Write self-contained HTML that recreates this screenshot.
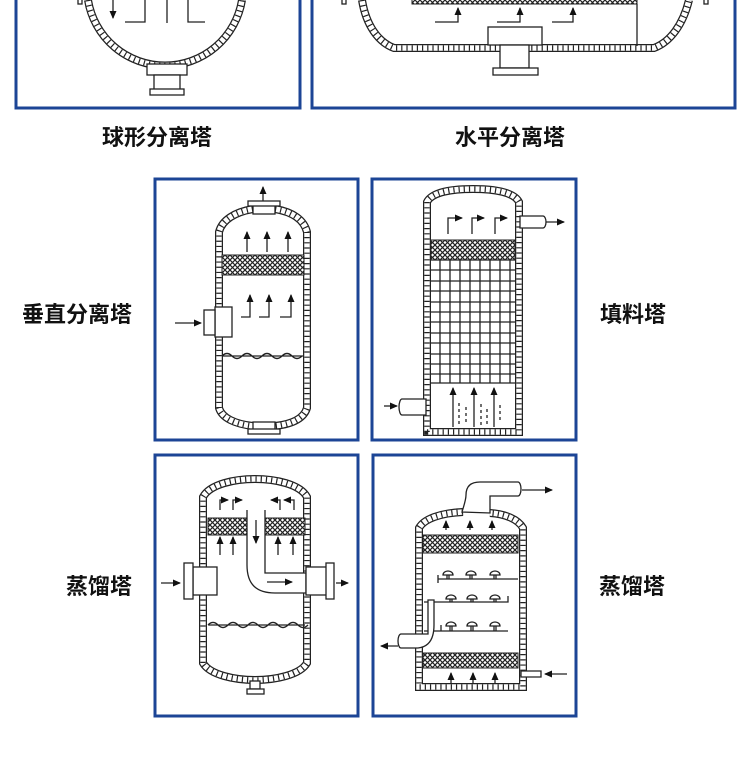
<!DOCTYPE html>
<html><head><meta charset="utf-8"><style>
html,body{margin:0;padding:0;background:#fff;width:750px;height:763px;overflow:hidden}
svg{display:block}
text{font-family:"Liberation Sans","Noto Sans CJK SC",sans-serif;font-weight:bold;font-size:22px;fill:#111}
.b{fill:none;stroke:#1c4596;stroke-width:3}
.wo{fill:none;stroke:#222;stroke-width:8}
.wi{fill:none;stroke:#fff;stroke-width:5.5}
.wt{fill:none;stroke:#222;stroke-width:5.5;stroke-dasharray:1.2 4}
.l{fill:none;stroke:#222;stroke-width:1.3}
.n{fill:#fff;stroke:#222;stroke-width:1.3}
</style></head><body>
<svg width="750" height="763" viewBox="0 0 750 763" xmlns="http://www.w3.org/2000/svg">
<defs>
<pattern id="mesh" width="5" height="5" patternUnits="userSpaceOnUse">
<rect width="5" height="5" fill="#fff"/><path d="M0 0L5 5M5 0L0 5" stroke="#222" stroke-width="1.2"/>
</pattern>
<marker id="a" markerUnits="userSpaceOnUse" markerWidth="9" markerHeight="8" refX="7" refY="3.5" orient="auto"><path d="M0 0L8 3.5L0 7z" fill="#111"/></marker>
<path id="s1" fill="none" d="M88 0 A78 78 0 0 0 242 0"/>
<path id="s2" fill="none" d="M362 0 C366 25 378 42 394 48 H654 C670 42 683 25 689 0"/>
<path id="s3" fill="none" d="M253 209 C235 212 222 220 219 232 V408 C222 418 235 424 253 426 M275 209 C293 212 304 220 307 232 V408 C304 418 293 424 275 426"/>
<path id="s4" fill="none" d="M427 432 H519 V202 C514 192 494 189 473 189 C452 189 432 192 427 202 Z"/>
<path id="s5" fill="none" d="M203 663 V497 C210 484 235 479 255 479 C275 479 300 484 307 497 V663 C300 675 275 680 255 680 C235 680 210 675 203 663 Z"/>
<path id="s6" fill="none" d="M463 512 C440 513 424 519 419 528 V687 H523 V528 C518 519 505 514 490 513"/>
</defs>

<rect class="b" x="16" y="-5" width="284" height="113"/>
<rect class="b" x="312" y="-5" width="423" height="113"/>
<rect class="b" x="155" y="179" width="203" height="261"/>
<rect class="b" x="372" y="179" width="204" height="261"/>
<rect class="b" x="155" y="455" width="203" height="261"/>
<rect class="b" x="373" y="455" width="203" height="261"/>

<text x="157" y="145" text-anchor="middle">球形分离塔</text>
<text x="510" y="145" text-anchor="middle">水平分离塔</text>
<text x="77" y="322" text-anchor="middle">垂直分离塔</text>
<text x="633" y="322" text-anchor="middle">填料塔</text>
<text x="99" y="594" text-anchor="middle">蒸馏塔</text>
<text x="632" y="594" text-anchor="middle">蒸馏塔</text>

<g>
<use href="#s1" class="wo"/><use href="#s1" class="wi"/><use href="#s1" class="wt"/>
<rect class="n" x="147" y="64" width="40" height="11"/>
<rect class="n" x="154" y="75" width="26" height="15"/>
<rect class="n" x="150" y="89" width="34" height="6"/>
<path class="l" d="M125 22H145V0M167 0V23M188 0V22H205"/>
<path class="l" d="M113 0V18" marker-end="url(#a)"/>
<rect class="n" x="78" y="-4" width="4" height="8"/>
</g>

<g>
<use href="#s2" class="wo"/><use href="#s2" class="wi"/><use href="#s2" class="wt"/>
<rect x="412" y="-2" width="225" height="6" fill="url(#mesh)" stroke="#222" stroke-width="1"/>
<path class="l" d="M637 4V46"/>
<rect class="n" x="488" y="27" width="54" height="18"/>
<rect class="n" x="500" y="45" width="29" height="23"/>
<rect class="n" x="493" y="68" width="45" height="7"/>
<path class="l" d="M435 22H458V8" marker-end="url(#a)"/>
<path class="l" d="M497 22H520V8" marker-end="url(#a)"/>
<path class="l" d="M552 22H573V8" marker-end="url(#a)"/>
<rect class="n" x="342" y="-4" width="4" height="8"/><rect class="n" x="704" y="-4" width="4" height="8"/>
</g>

<g>
<use href="#s3" class="wo"/><use href="#s3" class="wi"/><use href="#s3" class="wt"/>
<rect x="222" y="255" width="82" height="20" fill="url(#mesh)" stroke="#222" stroke-width="1"/>
<rect class="n" x="253" y="204" width="22" height="10"/>
<rect class="n" x="248" y="201" width="32" height="5"/>
<path class="l" d="M263 201V187" marker-end="url(#a)"/>
<rect class="n" x="253" y="422" width="22" height="8"/>
<rect class="n" x="248" y="429" width="32" height="5"/>
<path class="l" d="M247 252V232" marker-end="url(#a)"/>
<path class="l" d="M267 252V232" marker-end="url(#a)"/>
<path class="l" d="M288 252V232" marker-end="url(#a)"/>
<path class="l" d="M241 317H250V295" marker-end="url(#a)"/>
<path class="l" d="M259 317H269V295" marker-end="url(#a)"/>
<path class="l" d="M280 317H291V295" marker-end="url(#a)"/>
<rect class="n" x="215" y="307" width="17" height="30"/>
<rect class="n" x="204" y="310" width="11" height="25"/>
<path class="l" d="M175 323H201" marker-end="url(#a)"/>
<path class="l" d="M222 356 q5 -5 10 0 t10 0 t10 0 t10 0 t10 0 t10 0 t10 0 t10 0 M222 356H304"/>
</g>

<g>
<use href="#s4" class="wo"/><use href="#s4" class="wi"/><use href="#s4" class="wt"/>
<rect x="431" y="240" width="84" height="20" fill="url(#mesh)" stroke="#222" stroke-width="1"/>
<path class="l" d="M431 260H515M431 270H515M431 281H515M431 291H515M431 302H515M431 312H515M431 322H515M431 333H515M431 343H515M431 354H515M431 364H515M431 374H515M431 383H515M440 260V383M450 260V383M460 260V383M470 260V383M480 260V383M490 260V383M500 260V383M510 260V383"/>
<path class="n" d="M520 216H543 A3 6 0 0 1 543 228H520Z"/>
<path class="l" d="M546 222H564" marker-end="url(#a)"/>
<path class="n" d="M426 399H402 A3 8 0 0 0 402 415H426Z"/>
<path class="l" d="M384 406H397" marker-end="url(#a)"/>
<path class="l" d="M448 234V218H462" marker-end="url(#a)"/>
<path class="l" d="M472 234V218H484" marker-end="url(#a)"/>
<path class="l" d="M495 234V218H507" marker-end="url(#a)"/>
<path class="l" d="M453 427V388" marker-end="url(#a)"/>
<path class="l" d="M474 427V388" marker-end="url(#a)"/>
<path class="l" d="M494 427V388" marker-end="url(#a)"/>
<path class="l" d="M459 403V425M466 407V422M481 404V426M487 409V424M500 405V422" stroke-dasharray="3 3"/>
</g>

<g>
<use href="#s5" class="wo"/><use href="#s5" class="wi"/><use href="#s5" class="wt"/>
<rect x="208" y="518" width="40" height="17" fill="url(#mesh)" stroke="#222" stroke-width="1"/>
<rect x="265" y="518" width="40" height="17" fill="url(#mesh)" stroke="#222" stroke-width="1"/>
<path class="n" d="M247 510 V565 C247 585 257 593 275 593 H306 V573 H265 V510"/>
<path class="l" d="M256 520V543" marker-end="url(#a)"/>
<path class="l" d="M267 582H292" marker-end="url(#a)"/>
<path class="l" d="M220 555V537" marker-end="url(#a)"/>
<path class="l" d="M233 555V537" marker-end="url(#a)"/>
<path class="l" d="M278 555V537" marker-end="url(#a)"/>
<path class="l" d="M293 555V537" marker-end="url(#a)"/>
<path class="l" d="M220 510V500H228" marker-end="url(#a)"/>
<path class="l" d="M233 510V500H242" marker-end="url(#a)"/>
<path class="l" d="M280 510V500H271" marker-end="url(#a)"/>
<path class="l" d="M294 510V500H284" marker-end="url(#a)"/>
<rect class="n" x="193" y="567" width="24" height="28"/>
<rect class="n" x="184" y="563" width="9" height="36"/>
<path class="l" d="M161 583H180" marker-end="url(#a)"/>
<rect class="n" x="306" y="567" width="24" height="28"/>
<rect class="n" x="326" y="563" width="8" height="36"/>
<path class="l" d="M336 583H348" marker-end="url(#a)"/>
<path class="l" d="M208 625 q5 -5 10 0 t10 0 t10 0 t10 0 t10 0 t10 0 t10 0 t10 0 t10 0 t10 0 M208 625H305"/>
<rect class="n" x="250" y="681" width="10" height="8"/>
<rect class="n" x="247" y="689" width="17" height="5"/>
</g>

<g>
<use href="#s6" class="wo"/><use href="#s6" class="wi"/><use href="#s6" class="wt"/>
<rect x="423" y="535" width="95" height="18" fill="url(#mesh)" stroke="#222" stroke-width="1"/>
<rect x="423" y="653" width="95" height="15" fill="url(#mesh)" stroke="#222" stroke-width="1"/>
<path class="n" d="M462 512 C464 505 466 500 466 495 C466 487 470 482 480 482 H518 A3 7 0 0 1 518 496 H490 V513 Z"/>
<path class="l" d="M522 490H552" marker-end="url(#a)"/>
<path class="l" d="M446 530V521" marker-end="url(#a)"/>
<path class="l" d="M470 530V521" marker-end="url(#a)"/>
<path class="l" d="M492 530V521" marker-end="url(#a)"/>
<path class="l" d="M451 684V673" marker-end="url(#a)"/>
<path class="l" d="M473 684V673" marker-end="url(#a)"/>
<path class="l" d="M495 684V673" marker-end="url(#a)"/>
<path class="n" d="M521 671H541V677H521Z"/>
<path class="l" d="M567 674H545" marker-end="url(#a)"/>
<path class="l" d="M438 583V575M438 579H518M424 602H508V596M424 631H508M441 631V625"/>
<g class="l">
<path d="M443 575a5 4 0 0 1 10 0zM466 575a5 4 0 0 1 10 0zM490 575a5 4 0 0 1 10 0zM446 599a5 4 0 0 1 10 0zM467 599a5 4 0 0 1 10 0zM490 599a5 4 0 0 1 10 0zM446 626a5 4 0 0 1 10 0zM467 626a5 4 0 0 1 10 0zM490 626a5 4 0 0 1 10 0z"/>
<path d="M447 575V579M449 575V579M470 575V579M472 575V579M494 575V579M496 575V579M450 599V602M452 599V602M471 599V602M473 599V602M494 599V602M496 599V602M450 626V631M452 626V631M471 626V631M473 626V631M494 626V631M496 626V631"/>
</g>
<path class="n" d="M434 600 V625 C434 640 428 647 418 648 H401 A3 7 0 0 1 401 634 H428 V600 Z"/>
<path class="l" d="M398 646H381" marker-end="url(#a)"/>
</g>
</svg>
</body></html>
